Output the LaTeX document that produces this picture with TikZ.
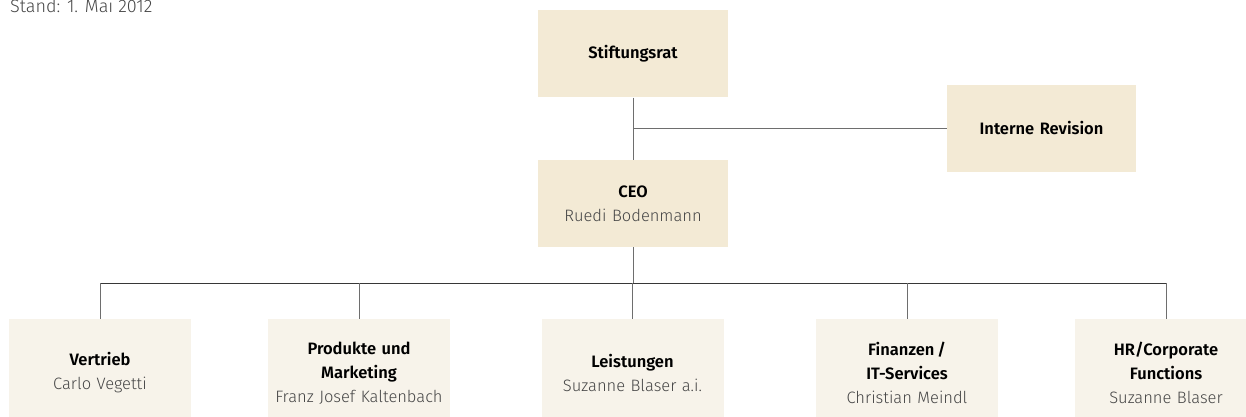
\documentclass[tikz,border=0pt]{standalone}
\usepackage{fontspec}
\setmainfont{Fira Sans Light}[BoldFont={Fira Sans SemiBold}]
\usepackage{xcolor}
\usepackage{tikz}
\usetikzlibrary{positioning, calc}

\definecolor{topfill}{RGB}{243,234,213}
\definecolor{subfill}{RGB}{247,243,234}
\definecolor{droplinie}{RGB}{110,110,110}
\definecolor{buslinie}{RGB}{55,55,55}
\definecolor{namegray}{RGB}{70,70,70}

\begin{document}
\begin{tikzpicture}[
   x=1pt, y=-1pt,
   font=\fontsize{16.5}{24}\selectfont,
   topbox/.style = {fill=topfill, rectangle, inner sep=0pt, minimum width=190pt, minimum height=87pt, text width=180pt, align=center},
   subbox/.style = {fill=subfill, rectangle, inner sep=0pt, minimum width=182pt, minimum height=108pt, text width=176pt, align=center},
   drop/.style = {draw=droplinie, line width=1pt},
   bus/.style = {draw=buslinie, line width=1pt}
   ]
  \clip (0,0) rectangle (1246,417);

  % Stand
  \node[anchor=base west, inner sep=0pt, text=namegray, font=\fontsize{18}{22}\selectfont] (stand) at (10,13) {Stand: 1. Mai 2012};

  % Stiftungsrat and CEO
  \node[topbox] (stiftungsrat) at (633,54) {\textbf{Stiftungsrat}};
  \node[topbox, below=62pt of stiftungsrat] (ceo)
   {\textbf{CEO}\\
   {\color{namegray}Ruedi Bodenmann}};

  % Interne Revision
  \node[topbox, minimum width=189pt] (revision) at (1041.5,128.5) {\textbf{Interne Revision}};

  % Departments
  \node[subbox] (vertrieb) at (100,373)
   {\textbf{Vertrieb}\\
   {\color{namegray}Carlo Vegetti}};
  \node[subbox] (produkte) at (359,373)
   {\textbf{Produkte und}\\
   \textbf{Marketing}\\
   {\color{namegray}Franz Josef Kaltenbach}};
  \node[subbox] (leistungen) at (632.5,373)
   {\textbf{Leistungen}\\
   {\color{namegray}Suzanne Blaser a.i.}};
  \node[subbox] (finanzen) at (907,373)
   {\textbf{Finanzen\,/}\\
   \textbf{IT-Services}\\
   {\color{namegray}Christian Meindl}};
  \node[subbox] (hr) at (1166,373)
   {\textbf{HR/Corporate}\\
   \textbf{Functions}\\
   {\color{namegray}Suzanne Blaser}};

  % Lines
  \coordinate (bus) at (633,283);
  \draw[drop] (stiftungsrat.south) -- (ceo.north);
  \draw[drop] (stiftungsrat.south |- revision.west) -- (revision.west);
  \draw[drop] (ceo.south) -- (bus);
  \draw[bus] (vertrieb.north |- bus) -- (hr.north |- bus);
  \foreach \n in {vertrieb, produkte, leistungen, finanzen, hr}
   \draw[drop] (\n.north) -- (\n.north |- bus);
\end{tikzpicture}
\end{document}
